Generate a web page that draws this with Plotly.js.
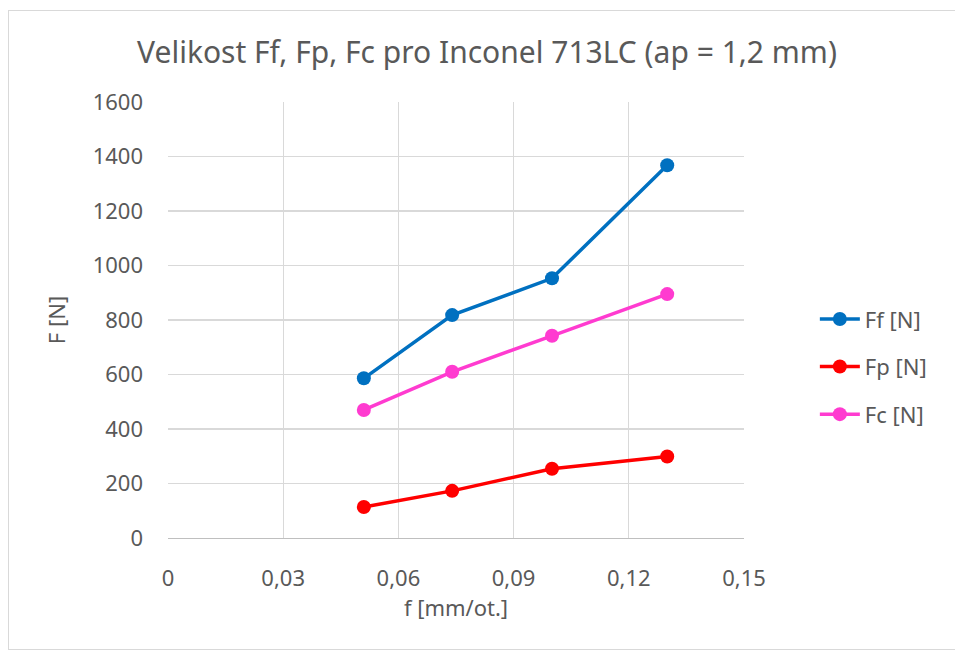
<!DOCTYPE html>
<html>
<head>
<meta charset="utf-8">
<script src="https://cdn.plot.ly/plotly-3.0.1.min.js"></script>
<style>
  html, body { margin: 0; padding: 0; background: #ffffff; }
  #frame { position: absolute; left: 8px; top: 10px; width: 960px; height: 640px; border: 1px solid #d9d9d9; box-sizing: border-box; }
  #chart { position: absolute; left: 0; top: 0; width: 955px; height: 655px; }
</style>
</head>
<body>
<div id="frame"></div>
<div id="chart"></div>
<script>
// Feed rate f [mm/ot.]
const feed = [0.051, 0.074, 0.1, 0.13];
// Force components [N]
const ff = [586, 818, 953, 1368];
const fp = [114, 173, 254, 299];
const fc = [470, 610, 742, 895];

const seriesNames = ['Ff [N]', 'Fp [N]', 'Fc [N]'];
const seriesColors = ['#0070c0', '#ff0000', '#ff3bd0'];
const xTicks = [0, 0.03, 0.06, 0.09, 0.12, 0.15];
const xTickText = ['0', '0,03', '0,06', '0,09', '0,12', '0,15'];
const yTicks = [0, 200, 400, 600, 800, 1000, 1200, 1400, 1600];

const fontFam = '"Noto Sans", "Open Sans", sans-serif';
const textCol = '#595959';

const traces = [ff, fp, fc].map((vals, i) => ({
  x: feed,
  y: vals,
  name: seriesNames[i],
  legendgroup: 'g' + i,
  type: 'scatter',
  mode: 'lines+markers',
  line: { color: seriesColors[i], width: 3.5 },
  marker: { color: seriesColors[i], size: 14 }
}));

const layout = {
  width: 955,
  height: 655,
  paper_bgcolor: 'rgba(0,0,0,0)',
  plot_bgcolor: '#ffffff',
  margin: { l: 168, r: 211, t: 102, b: 117 },
  font: { family: fontFam, color: textCol, size: 22 },
  title: {
    text: 'Velikost Ff, Fp, Fc pro Inconel 713LC (ap = 1,2 mm)',
    font: { family: fontFam, size: 30, color: textCol },
    x: 487 / 955, xanchor: 'center', xref: 'container',
    y: 1 - 52 / 655, yanchor: 'middle', yref: 'container'
  },
  xaxis: {
    range: [0, 0.15],
    tickvals: xTicks,
    ticktext: xTickText,
    showgrid: true,
    gridcolor: '#d9d9d9',
    gridwidth: 1.3,
    zeroline: false,
    showline: true,
    linecolor: '#bfbfbf',
    linewidth: 1.3,
    ticks: '',
    ticklabelstandoff: 20,
    tickfont: { size: 22, color: textCol },
    title: { text: 'f [mm/ot.]', font: { size: 22, color: textCol }, standoff: 10 },
    fixedrange: true
  },
  yaxis: {
    range: [0, 1600],
    tickvals: yTicks,
    showgrid: true,
    gridcolor: '#d9d9d9',
    gridwidth: 1.3,
    zeroline: false,
    showline: false,
    ticks: '',
    ticklabelstandoff: 24,
    tickfont: { size: 22, color: textCol },
    title: { text: 'F [N]', font: { size: 22, color: textCol }, standoff: 20 },
    fixedrange: true
  },
  showlegend: true,
  legend: {
    x: 1.123, xanchor: 'left',
    y: 0.393, yanchor: 'middle',
    font: { size: 22, color: textCol },
    bgcolor: 'rgba(0,0,0,0)',
    tracegroupgap: 16,
    itemwidth: 40
  }
};

Plotly.newPlot('chart', traces, layout, { displayModeBar: false, staticPlot: true });
</script>
</body>
</html>
